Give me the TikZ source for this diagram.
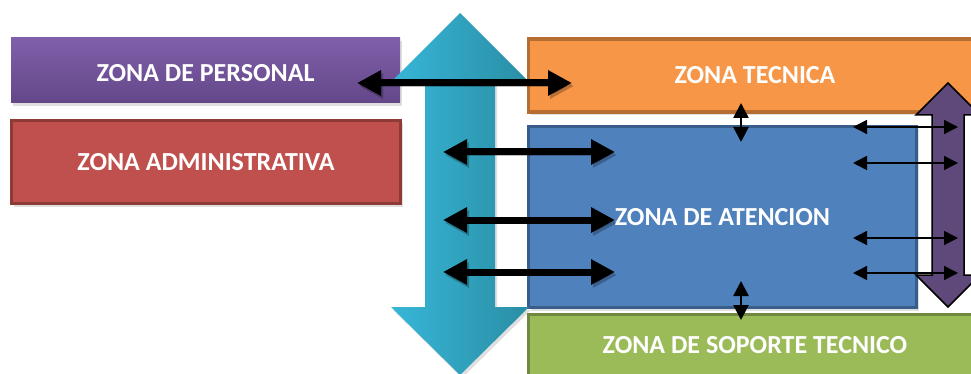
\documentclass[tikz,border=0pt]{standalone}
\usepackage{fontspec}
\setmainfont{Carlito}
\usetikzlibrary{arrows.meta,shadows}
\definecolor{perTop}{HTML}{7F5FAA}
\definecolor{perBot}{HTML}{644789}
\definecolor{admFill}{HTML}{C0504D}
\definecolor{admLine}{HTML}{8E3B38}
\definecolor{tecFill}{HTML}{F79646}
\definecolor{tecLine}{HTML}{B66D31}
\definecolor{ateFill}{HTML}{4F81BD}
\definecolor{ateLine}{HTML}{385D8A}
\definecolor{supFill}{HTML}{9BBB59}
\definecolor{supLine}{HTML}{71893F}
\definecolor{cyanL}{HTML}{37B6D7}
\definecolor{cyanR}{HTML}{2A8EA5}
\definecolor{violet}{HTML}{5F497A}
\tikzset{
  zone/.style={rectangle, inner sep=0pt, line width=3.5pt, text=white,
    font=\fontsize{26}{30}\selectfont\bfseries,
    drop shadow={opacity=0.25, shadow xshift=2pt, shadow yshift=-3pt}},
  zonetext/.style={text=white, inner sep=0pt, font=\fontsize{26}{30}\selectfont\bfseries},
  bigarrow/.style={line width=7pt,
    {Triangle[length=24pt,width=24pt]}-{Triangle[length=24pt,width=24pt]},
    preaction={draw=black, opacity=0.25, transform canvas={xshift=2pt,yshift=-3pt}}},
  vsmall/.style={line width=2.5pt,
    {Triangle[length=15pt,width=15pt]}-{Triangle[length=15pt,width=15pt]}},
  hsmall/.style={line width=1.6pt,
    {Triangle[length=14pt,width=14pt]}-{Triangle[length=14pt,width=14pt]}},
  bigshape/.style={drop shadow={opacity=0.25, shadow xshift=2pt, shadow yshift=-3pt}}
}
\begin{document}
\begin{tikzpicture}[x=1pt,y=-1pt]
\useasboundingbox (0,0) rectangle (971,374);
\clip (0,0) rectangle (971,374);
\fill[white] (0,0) rectangle (971,374);

% boxes
\node[zone, top color=perTop, bottom color=perBot, minimum width=389pt, minimum height=65pt] (personal) at (205.5,70.5) {};
\node[zonetext] (personaltext) at (205.5,73.5) {ZONA DE PERSONAL};
\node[zone, fill=admFill, draw=admLine, minimum width=389pt, minimum height=83pt] (admin) at (206,162) {ZONA ADMINISTRATIVA};
\node[zone, fill=tecFill, draw=tecLine, minimum width=453pt, minimum height=73pt] (tecnica) at (755,75.5) {ZONA TECNICA};
\node[zone, fill=ateFill, draw=ateLine, minimum width=388pt, minimum height=181pt] (atencion) at (722.5,217) {ZONA DE ATENCION};
\node[zone, fill=supFill, draw=supLine, minimum width=453pt, minimum height=61pt] (soporte) at (755,345) {ZONA DE SOPORTE TECNICO};

% cyan vertical double arrow
\path[bigshape, left color=cyanL, right color=cyanR]
  (460,13) -- (527,80) -- (495,80) -- (495,307) -- (529,307) -- (460,375)
  -- (391,307) -- (425,307) -- (425,80) -- (393,80) -- cycle;

% violet vertical double arrow
\path[fill=violet, draw=black, line width=1.5pt, line join=miter]
  (948,83) -- (980,115) -- (964,115) -- (964,275) -- (980,275) -- (948,307)
  -- (916,275) -- (932,275) -- (932,115) -- (916,115) -- cycle;

% arrow end points
\coordinate (a1) at (357,83);   \coordinate (a2) at (572,83);
\coordinate (b1) at (443,152);  \coordinate (b2) at (615,152);
\coordinate (c1) at (443,220);  \coordinate (c2) at (615,220);
\coordinate (d1) at (443,272);  \coordinate (d2) at (615,272);
\coordinate (v1) at (741,103);  \coordinate (v2) at (741,142);
\coordinate (w1) at (741,281);  \coordinate (w2) at (741,320);
\coordinate (h1) at (853,127);  \coordinate (h2) at (958,127);
\coordinate (i1) at (853,163);  \coordinate (i2) at (958,163);
\coordinate (j1) at (853,238);  \coordinate (j2) at (958,238);
\coordinate (k1) at (853,273);  \coordinate (k2) at (958,273);

\draw[bigarrow] (a1) -- (a2);
\draw[bigarrow] (b1) -- (b2);
\draw[bigarrow] (c1) -- (c2);
\draw[bigarrow] (d1) -- (d2);
\draw[vsmall] (v1) -- (v2);
\draw[vsmall] (w1) -- (w2);
\draw[hsmall] (h1) -- (h2);
\draw[hsmall] (i1) -- (i2);
\draw[hsmall] (j1) -- (j2);
\draw[hsmall] (k1) -- (k2);
\end{tikzpicture}
\end{document}
